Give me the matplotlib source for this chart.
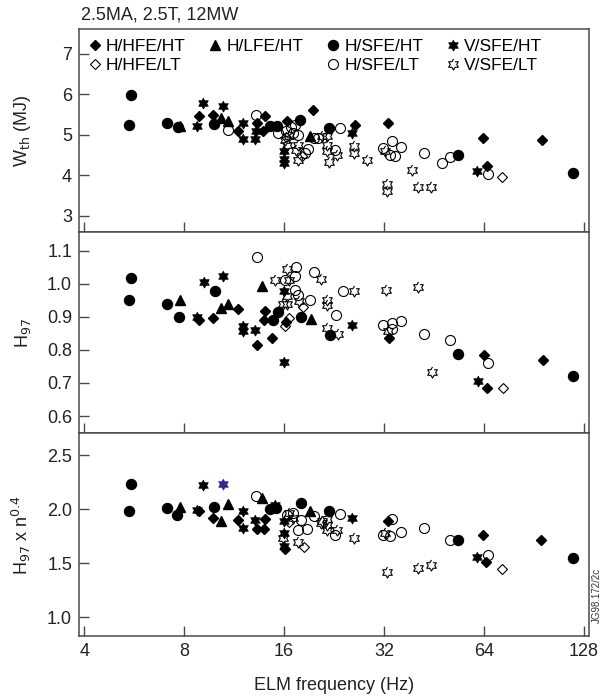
import numpy as np
import matplotlib
matplotlib.use("Agg")
from matplotlib import pyplot as plt
from matplotlib.lines import Line2D

plt.rcParams['font.family'] = ['Liberation Sans', 'DejaVu Sans']

# ---- data: (ELM frequency Hz, value) ----
# top panel: W_th (MJ)
W_HFE_HT = [(8.9, 5.47), (9.75, 5.49), (11.6, 5.10), (13.3, 5.29), (14.0, 5.47), (13.8, 5.08),
            (16.3, 5.34), (19.5, 5.62), (26.2, 5.25), (32.9, 5.30), (63.6, 4.93), (65.1, 4.24),
            (95.6, 4.86)]
W_HFE_LT = [(16.2, 4.95), (18.1, 4.47), (72.6, 3.96)]
W_LFE_HT = [(7.8, 5.21), (10.3, 5.42), (10.87, 5.33), (19.2, 4.98)]
W_SFE_HT = [(5.53, 5.98), (5.45, 5.25), (7.1, 5.29), (7.65, 5.20), (9.87, 5.27), (14.5, 5.22),
            (15.2, 5.22), (17.9, 5.36), (21.9, 5.17), (53.4, 4.51), (118.7, 4.06)]
W_SFE_LT = [(13.2, 5.49), (10.87, 5.12), (17.3, 5.25), (15.3, 5.05), (16.2, 5.10), (17.0, 5.05),
            (16.8, 5.18), (17.6, 5.00), (18.5, 4.55), (18.9, 4.65), (19.7, 4.93), (20.2, 4.93),
            (23.6, 5.16), (22.8, 4.62), (31.8, 4.66), (33.7, 4.84), (33.3, 4.51), (34.6, 4.48),
            (36.1, 4.70), (42.1, 4.55), (47.8, 4.30), (50.6, 4.45), (65.6, 4.04)]
W_VSFE_HT = [(8.74, 5.22), (9.14, 5.78), (10.5, 5.71), (12.05, 5.29), (12.0, 4.89), (13.07, 4.89),
             (13.2, 5.08), (16.0, 4.59), (16.0, 4.40), (16.0, 4.29), (25.6, 5.04), (61.0, 4.10)]
W_VSFE_LT = [(16.1, 4.88), (16.5, 4.96), (16.3, 4.75), (17.6, 4.75), (17.4, 4.63), (17.6, 4.38),
             (20.8, 4.98), (21.5, 4.96), (21.6, 4.75), (21.6, 4.59), (21.9, 4.32), (23.1, 4.51),
             (26.0, 4.71), (26.0, 4.55), (28.5, 4.38), (32.3, 4.60), (32.6, 3.79), (32.6, 3.60),
             (38.9, 4.14), (40.5, 3.71), (44.3, 3.71)]

# middle panel: H97
H_HFE_HT = [(8.9, 0.891), (9.78, 0.896), (11.6, 0.924), (13.3, 0.816), (14.0, 0.918), (13.9, 0.890),
            (14.7, 0.836), (16.2, 0.885), (33.0, 0.836), (63.8, 0.785), (65.1, 0.685), (96.3, 0.768)]
H_HFE_LT = [(16.1, 0.873), (16.6, 0.896), (18.3, 0.930), (72.9, 0.685)]
H_LFE_HT = [(7.78, 0.950), (10.3, 0.925), (10.87, 0.937), (13.7, 0.992), (19.3, 0.892)]
H_SFE_HT = [(5.53, 1.017), (5.45, 0.952), (7.1, 0.937), (7.7, 0.898), (9.9, 0.977), (14.8, 0.891),
            (15.3, 0.913), (18.0, 0.899), (22.0, 0.846), (53.6, 0.789), (118.7, 0.720)]
H_SFE_LT = [(13.25, 1.080), (16.1, 1.012), (17.2, 1.024), (17.4, 1.050), (17.3, 0.982), (17.6, 0.967),
            (19.1, 0.950), (19.7, 1.035), (24.0, 0.979), (22.9, 0.906), (31.8, 0.874), (33.9, 0.881),
            (36.1, 0.888), (33.7, 0.863), (42.3, 0.849), (50.7, 0.831), (65.8, 0.760)]
H_VSFE_HT = [(8.74, 0.899), (9.2, 1.005), (10.5, 1.024), (12.0, 0.871), (12.0, 0.856), (13.07, 0.861),
             (16.0, 0.762), (16.0, 0.977), (25.7, 0.876), (61.4, 0.705)]
H_VSFE_LT = [(15.0, 1.010), (16.3, 1.044), (16.6, 1.012), (16.3, 0.962), (16.3, 0.937), (17.8, 0.947),
             (15.9, 0.937), (20.6, 1.014), (21.5, 0.950), (21.6, 0.934), (21.6, 0.866), (23.2, 0.849),
             (26.0, 0.979), (32.4, 0.982), (32.9, 0.856), (40.6, 0.990), (44.5, 0.732)]

# bottom panel: H97 x n^0.4
N_HFE_HT = [(8.9, 1.98), (9.75, 1.92), (11.6, 1.90), (13.3, 1.82), (13.9, 1.82), (14.0, 1.91),
            (16.1, 1.63), (32.9, 1.89), (63.6, 1.76), (64.8, 1.51), (95.2, 1.72)]
N_HFE_LT = [(16.6, 1.88), (18.4, 1.65), (72.6, 1.45)]
N_LFE_HT = [(7.78, 2.02), (10.3, 1.89), (10.87, 2.05), (13.7, 2.10), (19.2, 1.98)]
N_SFE_HT = [(5.53, 2.23), (5.45, 1.98), (7.1, 2.01), (7.6, 1.95), (9.87, 2.02), (14.5, 2.00),
            (15.1, 2.01), (18.0, 2.06), (21.9, 1.98), (53.4, 1.72), (118.7, 1.55)]
N_SFE_LT = [(13.2, 2.12), (17.0, 1.97), (16.3, 1.95), (17.6, 1.81), (18.0, 1.90), (18.8, 1.82),
            (19.7, 1.94), (23.6, 1.96), (22.8, 1.76), (33.7, 1.91), (31.8, 1.76), (33.4, 1.75),
            (36.1, 1.79), (42.1, 1.83), (50.6, 1.72), (65.6, 1.58)]
N_VSFE_HT = [(8.74, 1.99), (9.14, 2.22), (12.05, 1.98), (12.0, 1.83), (13.07, 1.90), (15.0, 2.04),
             (16.0, 1.89), (16.0, 1.78), (16.0, 1.66), (25.7, 1.92), (61.0, 1.56)]
N_VSFE_HT_BLUE = [(10.5, 2.23)]
N_VSFE_LT = [(15.9, 1.73), (17.6, 1.70), (16.5, 1.97), (17.0, 1.92), (20.6, 1.87), (20.8, 1.89),
             (21.5, 1.91), (21.6, 1.81), (21.5, 1.85), (23.1, 1.81), (26.0, 1.73), (32.3, 1.78),
             (32.7, 1.42), (40.5, 1.46), (44.3, 1.48)]

LABELS = ['H/HFE/HT', 'H/HFE/LT', 'H/LFE/HT', 'H/SFE/HT', 'H/SFE/LT', 'V/SFE/HT', 'V/SFE/LT']
XTICKS = [4, 8, 16, 32, 64, 128]

# six-pointed star marker
ang = np.deg2rad(90 + 30 * np.arange(12))
rad = np.where(np.arange(12) % 2 == 0, 1.0, 1 / np.sqrt(3))
HEXAGRAM = list(zip(rad * np.cos(ang), rad * np.sin(ang)))

STYLES = {
    'H/HFE/HT': dict(marker='D', ms=5.2, mfc='black', mec='black'),
    'H/HFE/LT': dict(marker='D', ms=5.2, mfc='none', mec='black', mew=0.8),
    'H/LFE/HT': dict(marker='^', ms=7, mfc='black', mec='black'),
    'H/SFE/HT': dict(marker='o', ms=7.2, mfc='black', mec='black'),
    'H/SFE/LT': dict(marker='o', ms=7.2, mfc='none', mec='black', mew=0.8),
    'V/SFE/HT': dict(marker=HEXAGRAM, ms=8, mfc='black', mec='black', mew=0.5),
    'V/SFE/LT': dict(marker=HEXAGRAM, ms=8, mfc='none', mec='black', mew=0.8),
}

AXCOL = '#4a4a4a'

fig = plt.figure(figsize=(6.03, 6.96), dpi=100)
ax_w = fig.add_axes([0.131, 0.6667, 0.846, 0.2917])
ax_h = fig.add_axes([0.131, 0.3779, 0.846, 0.2888])
ax_n = fig.add_axes([0.131, 0.0862, 0.846, 0.2917])

panels = [
    (ax_w, [W_HFE_HT, W_HFE_LT, W_LFE_HT, W_SFE_HT, W_SFE_LT, W_VSFE_HT, W_VSFE_LT],
     (2.6, 7.61), [3, 4, 5, 6, 7], ['3', '4', '5', '6', '7'], r'W$_{\rm th}$ (MJ)'),
    (ax_h, [H_HFE_HT, H_HFE_LT, H_LFE_HT, H_SFE_HT, H_SFE_LT, H_VSFE_HT, H_VSFE_LT],
     (0.549, 1.156), [0.6, 0.7, 0.8, 0.9, 1.0, 1.1], ['0.6', '0.7', '0.8', '0.9', '1.0', '1.1'],
     r'H$_{97}$'),
    (ax_n, [N_HFE_HT, N_HFE_LT, N_LFE_HT, N_SFE_HT, N_SFE_LT, N_VSFE_HT, N_VSFE_LT],
     (0.827, 2.706), [1.0, 1.5, 2.0, 2.5], ['1.0', '1.5', '2.0', '2.5'], r'H$_{97}$ x n$^{0.4}$'),
]

for ax, series, ylim, yt, ytl, ylab in panels:
    for lab, pts in zip(LABELS, series):
        f, v = zip(*pts)
        ax.plot(f, v, ls='none', **STYLES[lab])
    ax.set_xscale('log', base=2)
    ax.set_xlim(3.86, 132.6)
    ax.set_ylim(*ylim)
    ax.set_xticks(XTICKS)
    ax.set_xticks([], minor=True)
    ax.set_yticks(yt)
    ax.set_yticklabels(ytl)
    ax.set_xticklabels([str(t) for t in XTICKS])
    ax.tick_params(direction='in', length=7, width=1, colors=AXCOL, labelcolor='#222222',
                   labelsize=13, top=False, right=False, pad=5)
    ax.set_ylabel(ylab, fontsize=13, color='#222222')
    ax.yaxis.set_label_coords(-0.09, 0.5)
    for sp in ax.spines.values():
        sp.set_color(AXCOL)
        sp.set_linewidth(1.1)

ax_w.tick_params(labelbottom=False)
ax_h.tick_params(labelbottom=False)

f, v = zip(*N_VSFE_HT_BLUE)
ax_n.plot(f, v, ls='none', **dict(STYLES['V/SFE/HT'], mfc='#2b2b8c', mec='#2b2b8c'))

ax_n.set_xlabel('ELM frequency (Hz)', fontsize=13, color='#222222', labelpad=12)

# legend: column-wise order, blank slot under H/LFE/HT
handles = []
order = ['H/HFE/HT', 'H/HFE/LT', 'H/LFE/HT', None, 'H/SFE/HT', 'H/SFE/LT', 'V/SFE/HT', 'V/SFE/LT']
for lab in order:
    if lab is None:
        handles.append(Line2D([], [], ls='none', marker='none', label=' '))
    else:
        handles.append(Line2D([], [], ls='none', label=lab, **STYLES[lab]))
ax_w.legend(handles=handles, ncol=4, loc='upper left', bbox_to_anchor=(0.0, 1.0),
            frameon=False, fontsize=12.5, handlelength=0.7, handletextpad=0.3,
            columnspacing=1.35, borderaxespad=0.3, labelspacing=0.22, borderpad=0.25)

fig.text(81 / 603, 1 - 15 / 696, '2.5MA, 2.5T, 12MW', fontsize=13, color='#222222',
         ha='left', va='center')
fig.text(597 / 603, 1 - 595 / 696, 'JG98.172/2c', fontsize=7, rotation=90, color='#333333',
         ha='center', va='center')

fig.savefig('out.png', dpi=100)
